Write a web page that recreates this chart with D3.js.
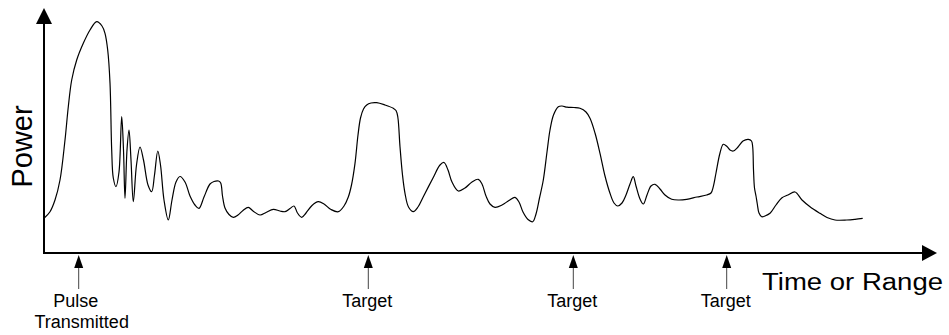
<!DOCTYPE html>
<html>
<head>
<meta charset="utf-8">
<script src="https://cdn.jsdelivr.net/npm/d3@7"></script>
<style>
  html, body { margin: 0; padding: 0; background: #fff; }
  svg { display: block; }
  text { font-family: "Liberation Sans", Arial, sans-serif; fill: #000; }
</style>
</head>
<body>
<div id="chart"></div>
<script>
// ---- Data (arbitrary units) ----
const time = [0, 6, 11, 16, 21, 24.3, 27.7, 32.7, 39.3, 46, 52.7, 58, 61, 63.7, 66, 67.7, 69.3, 72, 75, 77.7, 79.5, 81, 83, 85, 87, 89.3,
  92.5, 96, 99.5, 104, 107.7, 110.5, 113.8, 116.5, 120, 124.3, 128, 132, 136, 141, 146, 151, 155, 160, 166, 170, 174.5, 176.7,
  178.5, 181, 185, 189.3, 194, 199, 204.3, 209, 216, 222, 229.3, 236, 241, 246, 250, 253.5, 257.7, 262, 268, 274.3, 280, 287,
  294.3, 300, 304.3, 307.5, 311, 314, 316.5, 319.5, 322.7, 327, 332.7, 341, 349.3, 352, 353.8, 356, 358.5, 361, 364.5, 369.3,
  374, 379.3, 389, 396, 400, 404, 408, 414.3, 421, 428, 434.3, 438, 442, 446, 451, 458, 465, 471, 475, 479, 484, 488.7, 492,
  495.5, 499.3, 503, 506, 509.5, 514.3, 518, 523, 530, 536, 542, 546, 551, 556, 561, 566, 570, 573.7, 578, 582, 586, 589.3,
  592, 596, 599.3, 603, 607, 611, 616, 621, 627.7, 635, 642.7, 653, 662.7, 667, 669.3, 672, 676, 679.3, 683, 686, 689.3, 694,
  699, 704.3, 707.5, 708.7, 709.5, 710.5, 712, 713.3, 715, 717.7, 721, 726, 732, 737.7, 744, 751, 758, 766, 776, 783, 791,
  802.7, 811, 818.7];
const power = [34.7, 41.3, 53, 73, 113, 146.3, 173, 193, 209.7, 223, 231.3, 227, 219.7, 203, 170, 103, 75, 66.3, 81, 136.3, 103, 54.7,
  103, 123, 93, 51.3, 88, 106, 93, 68, 61.3, 78, 102, 88, 53, 33, 53, 71, 76.5, 71, 57, 48, 44.7, 56, 69, 71.5, 72, 70, 57, 45,
  38.5, 35.7, 38, 42.5, 45.7, 42, 38, 40.5, 43.7, 42, 41.3, 44.5, 47, 40, 35.7, 40, 47.5, 51.3, 49, 43.5, 41.3, 47, 56, 68, 89.7,
  118, 135, 144, 148, 150, 150.3, 148, 144.7, 142.5, 136, 106.3, 78, 59.7, 46, 41.3, 46, 56.3, 75, 88, 90.5, 83, 71, 62, 65, 71,
  73.7, 69, 57, 49, 45.7, 48, 52.5, 55.7, 51, 41, 33.5, 31.3, 39, 55, 73, 101, 123, 138, 146.3, 147, 145.8, 145.5, 144.7, 141,
  134.7, 120, 99.7, 77, 59.7, 50, 47, 50, 58, 69, 76.3, 67, 54, 49, 58, 67, 68.7, 64, 58, 53.7, 53, 53.7, 56, 58, 60, 66.3, 80,
  100, 108.7, 106.5, 103, 102, 106, 112, 113.7, 112, 106, 83, 65, 57, 49, 40, 36.3, 37, 39.7, 48, 55, 58, 61, 53, 46.3, 39.7,
  35.5, 33, 33, 33.7, 34.7];

const markerTimes = [34.7, 324.3, 529.3, 682.7];
const markerLabels = [["Pulse", "Transmitted"], ["Target"], ["Target"], ["Target"]];
const xTitle = "Time or Range";
const yTitle = "Power";

// ---- Layout ----
const W = 949, H = 335;
const svg = d3.select("#chart").append("svg").attr("width", W).attr("height", H);

const x = d3.scaleLinear().domain([0, 900]).range([44, 944]);
const y = d3.scaleLinear().domain([0, 240]).range([253, 13]);

const axisY = y(0);
const axisX = x(0);

// Axes lines
svg.append("line").attr("x1", axisX).attr("y1", axisY).attr("x2", 922).attr("y2", axisY)
  .attr("stroke", "#000").attr("stroke-width", 2);
svg.append("path").attr("d", `M922,${axisY - 8}L937,${axisY}L922,${axisY + 8}Z`).attr("fill", "#000");

svg.append("line").attr("x1", axisX).attr("y1", axisY + 1).attr("x2", axisX).attr("y2", 23)
  .attr("stroke", "#000").attr("stroke-width", 2);
svg.append("path").attr("d", `M${axisX - 8},24L${axisX},8L${axisX + 8},24Z`).attr("fill", "#000");

// Curve
const line = d3.line()
  .x((d, i) => x(time[i]))
  .y((d, i) => y(power[i]))
  .curve(d3.curveCatmullRom.alpha(0.5));

svg.append("path").datum(power).attr("d", line)
  .attr("fill", "none").attr("stroke", "#000").attr("stroke-width", 1.2);

// Markers
const mg = svg.selectAll("g.marker").data(markerTimes).join("g")
  .attr("class", "marker")
  .attr("transform", d => `translate(${x(d)},0)`);

mg.append("line").attr("x1", 0).attr("x2", 0).attr("y1", 266).attr("y2", 289)
  .attr("stroke", "#444").attr("stroke-width", 1);
mg.append("path").attr("d", "M-4.5,268L0,255L4.5,268Z").attr("fill", "#000");

mg.each(function(d, i) {
  const lines = markerLabels[i];
  const g = d3.select(this);
  lines.forEach((t, j) => {
    g.append("text")
      .attr("x", lines.length > 1 ? (j === 0 ? -3 : 3) : -1)
      .attr("y", 306.5 + j * 21.5)
      .attr("text-anchor", "middle")
      .attr("font-size", 18)
      .text(t);
  });
});

// Titles
svg.append("text").attr("x", 762).attr("y", 290)
  .attr("font-size", 23)
  .attr("textLength", 181).attr("lengthAdjust", "spacingAndGlyphs")
  .text(xTitle);

svg.append("text").attr("transform", "translate(31.5,146.5) rotate(-90)")
  .attr("text-anchor", "middle").attr("font-size", 29)
  .text(yTitle);
</script>
</body>
</html>
